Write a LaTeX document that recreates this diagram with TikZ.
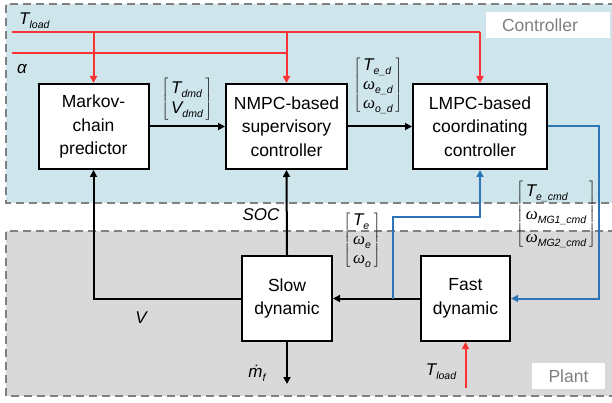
\documentclass[tikz,border=0pt]{standalone}
\usepackage{fontspec}
\setmainfont{Liberation Sans}
\newfontfamily\grk{Liberation Serif}
\usetikzlibrary{arrows.meta}
\definecolor{ctrlbg}{RGB}{207,229,236}
\definecolor{plantbg}{RGB}{217,217,217}
\definecolor{frame}{RGB}{128,128,128}
\definecolor{sigred}{RGB}{250,50,50}
\definecolor{sigblue}{RGB}{46,117,182}
% symbol with a small italic subscript
\newcommand\sym[2]{#1\raisebox{-4pt}{\fontsize{10.5}{10.5}\selectfont\itshape #2}}
\newcommand\om{{\grk\itshape\fontsize{17}{17}\selectfont ω}}
% column vector in square brackets; #1 = row height
\newcommand\vecl[2]{$\left[\vcenter{\hbox{\def\arraystretch{1}%
  \begin{tabular}{@{\,}l@{\,}}#2\end{tabular}}}\right]$}
\newcommand\rw[1]{\rule[-5pt]{0pt}{#1}}
\begin{document}
\begin{tikzpicture}[x=1pt,y=-1pt,
  blk/.style={draw=black,line width=2pt,fill=white,align=center,
    font=\fontsize{17.5}{23.5}\selectfont,inner sep=0pt},
  wire/.style={line width=2pt},
  arr/.style={wire,-{Triangle[length=7pt,width=7pt]}},
  sred/.style={sigred},
  sblu/.style={sigblue},
  region/.style={draw=frame,line width=1.6pt,dash pattern=on 8pt off 5pt},
  tag/.style={fill=white,text=frame,font=\fontsize{17.5}{20}\selectfont,
    inner sep=0pt},
  lab/.style={font=\fontsize{17}{19}\selectfont\itshape,inner sep=0pt},
  vec/.style={font=\fontsize{17}{19}\selectfont\itshape,inner sep=0pt,
    align=left}]
\useasboundingbox (0,0) rectangle (612,403);

% controller and plant regions
\fill[ctrlbg] (6,4) rectangle (612,203);
\draw[region] (616,4) -- (6,4) -- (6,203) -- (616,203);
\fill[plantbg] (6,231) rectangle (612,396);
\draw[region] (616,231) -- (6,231) -- (6,396) -- (616,396);
\node[tag,minimum width=124pt,minimum height=26pt] (ctrltag) at (548,25) {\hspace*{-16pt}Controller};
\node[tag,minimum width=73pt,minimum height=26pt] (planttag) at (568.5,376) {Plant};

% blocks
\node[blk,minimum width=110pt,minimum height=85pt] (markov) at (93.5,126.5) {Markov-\\chain\\predictor};
\node[blk,minimum width=121pt,minimum height=85pt] (nmpc) at (286.5,126.5) {NMPC-based\\supervisory\\controller};
\node[blk,minimum width=134pt,minimum height=85pt] (lmpc) at (480,126.5) {LMPC-based\\coordinating\\controller};
\node[blk,minimum width=90pt,minimum height=85pt] (slow) at (287,298.5) {Slow\\dynamic};
\node[blk,minimum width=89pt,minimum height=85pt] (fast) at (465.5,298.5) {Fast\\dynamic};

% external inputs
\coordinate (tl0) at (12,32);
\coordinate (tl1) at (lmpc.north |- tl0);
\coordinate (al0) at (12,53);
\coordinate (al1) at (nmpc.north |- al0);
\draw[wire,sred] (tl0) -- (tl1);
\draw[wire,sred] (al0) -- (al1);
\draw[arr,sred] (tl1) -- (lmpc.north);
\draw[arr,sred] (markov.north |- tl0) -- (markov.north);
\draw[arr,sred] (nmpc.north |- tl0) -- (nmpc.north);
\node[lab,anchor=base west] (tload) at (19,25) {\sym{T}{load}};
\node[lab,anchor=base west] (alpha) at (17,74) {α};

% controller chain
\draw[arr] (markov.east) -- (nmpc.west);
\draw[arr] (nmpc.east) -- (lmpc.west);
\node[vec] (dmd) at (187,99) {\vecl{}{\rw{20pt}\sym{T}{dmd}\\\rw{19pt}\sym{V}{dmd}}};
\node[vec] (ref) at (378,85) {\vecl{}{\rw{19pt}\sym{T}{e\_d}\\\rw{17pt}\sym{\om}{e\_d}\\\rw{17pt}\sym{\om}{o\_d}}};

% plant feedback
\coordinate (vturn) at (markov.south |- slow.west);
\draw[arr] (slow.west) -- (vturn) -- (markov.south);
\draw[arr] (slow.north) -- (nmpc.south);
\coordinate (mfend) at (slow.south |- 0,384);
\draw[arr] (slow.south) -- (mfend);
\draw[arr] (fast.west) -- (slow.east);
\node[lab] (soc) at (261,215) {SOC};
\node[lab] (vlab) at (141,318) {V};
\node[lab] (mf) at (257,373) {\sym{\.{m}}{f}};

% fast loop through the coordinating controller
\coordinate (b0) at (393,298.5);
\coordinate (b1) at (393,217);
\coordinate (b2) at (lmpc.south |- b1);
\draw[arr,sblu] (b0) -- (b1) -- (b2) -- (lmpc.south);
\coordinate (c1) at (599,126.5);
\coordinate (c2) at (599,298.5);
\draw[arr,sblu] (lmpc.east) -- (c1) -- (c2) -- (fast.east);
\node[vec] (meas) at (362,240) {\vecl{}{\rw{19pt}\sym{T}{e}\\\rw{17pt}\sym{\om}{e}\\\rw{17pt}\sym{\om}{o}}};
\node[vec] (cmd) at (556,214) {\vecl{}{\rw{22pt}\sym{T}{e\_cmd}\\\rw{22pt}\sym{\om}{MG1\_cmd}\\\rw{22pt}\sym{\om}{MG2\_cmd}}};

% load torque into the fast dynamics
\coordinate (tlb) at (fast.south |- 0,388);
\draw[arr,sred] (tlb) -- (fast.south);
\node[lab] (tload2) at (441,372) {\sym{T}{load}};
\end{tikzpicture}
\end{document}
